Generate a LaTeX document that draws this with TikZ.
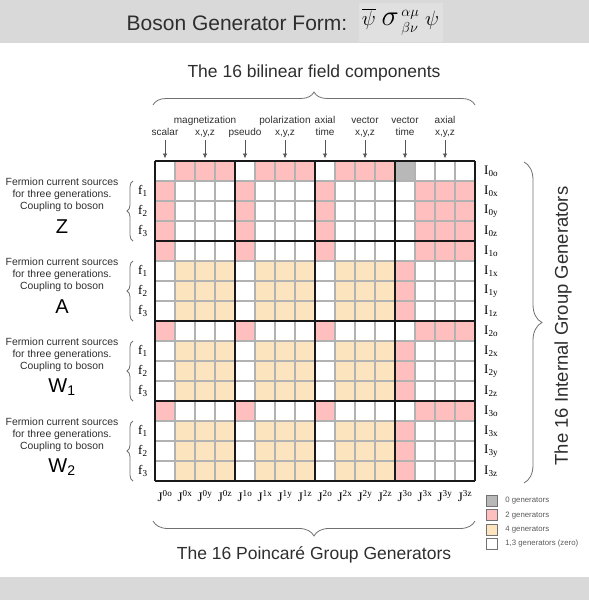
\documentclass[tikz,border=0pt]{standalone}
\usepackage{fontspec}
\setmainfont{Liberation Sans}
\newfontfamily\timesface{Liberation Serif}
\usetikzlibrary{arrows.meta, positioning, decorations.pathreplacing}
\definecolor{bandgray}{HTML}{D9D9D9}
\definecolor{inkgray}{HTML}{2E2E2E}
\definecolor{arrowgray}{HTML}{555555}
\definecolor{bracegray}{HTML}{707070}
\definecolor{rulegray}{HTML}{B2B2B2}
\definecolor{cellw}{HTML}{FFFFFF}
\definecolor{cellp}{HTML}{FFBFBF}
\definecolor{cello}{HTML}{FCE4BE}
\definecolor{cellg}{HTML}{B8B8B8}
\tikzset{heading/.style={font=\fontsize{17.5}{20}\selectfont,text=inkgray,inner sep=0pt},colhead/.style={align=center,anchor=base,font=\fontsize{10}{12}\selectfont,text=inkgray,inner sep=1.5pt,text depth=0.25em},colarrow/.style={draw=arrowgray,line width=0.8pt,-{Latex[length=5pt,width=4.5pt]}},thinrule/.style={draw=rulegray,line width=1.1pt},blockrule/.style={draw=black!90,line width=1.5pt},rowlabel/.style={anchor=west,font=\timesface\fontsize{13}{14}\selectfont,inner sep=0pt},collabel/.style={font=\timesface\fontsize{13}{14}\selectfont,inner sep=0pt},genlabel/.style={anchor=west,font=\timesface\fontsize{13}{14}\selectfont,inner sep=0pt},sources/.style={align=center,font=\fontsize{10.4}{11.7}\selectfont,text=inkgray,inner sep=0pt},boson/.style={font=\fontsize{20}{22}\selectfont,inner sep=0pt},bracepen/.style={draw=bracegray,line width=0.8pt,decorate},keybox/.style={draw=black!55,minimum size=11pt,inner sep=0pt},keytext/.style={font=\fontsize{7.8}{9}\selectfont,text=black!65,inner sep=0pt}}

\begin{document}
\begin{tikzpicture}[x=1pt,y=-1pt]
\useasboundingbox (0,0) rectangle (589,600);
\fill[bandgray] (0,0) rectangle (589,43);
\fill[bandgray] (0,577) rectangle (589,600);
\node[font=\fontsize{21}{24}\selectfont,text=inkgray,inner sep=0pt] (title) at (237,23) {Boson Generator Form:};
\node[draw=black!15,fill=black!12,minimum width=85pt,minimum height=40pt,font=\fontsize{21}{24}\selectfont] (formula) at (400.5,22) {$\overline{\psi}\;{\scalebox{1.4}{$\sigma$}}^{\,\raisebox{1.5pt}{$\scriptstyle\alpha\mu$}}_{\,\raisebox{-2pt}{$\scriptstyle\beta\nu$}}\;\psi$};
\node[heading] (bilinear) at (314,73) {The 16 bilinear field components};
\draw[bracepen,decoration={brace,amplitude=13pt}] (153,105) -- (475,105);
\coordinate (gridtop) at (155,158.5);
% column kinds
\node[colhead] (scalar) at (165,135.5) {scalar};
\node[colhead] (magnet) at (205,135.5) {magnetization\\x,y,z};
\node[colhead] (pseudo) at (245,135.5) {pseudo};
\node[colhead] (polar) at (285,135.5) {polarization\\x,y,z};
\node[colhead] (axtime) at (325,135.5) {axial\\time};
\node[colhead] (vecxyz) at (365,135.5) {vector\\x,y,z};
\node[colhead] (vectime) at (405,135.5) {vector\\time};
\node[colhead] (axxyz) at (445,135.5) {axial\\x,y,z};
\foreach \n in {scalar,magnet,pseudo,polar,axtime,vecxyz,vectime,axxyz}
  \draw[colarrow] (\n.south) -- (\n.south |- gridtop);
% cells
\foreach \cells [count=\r from 0] in {
  {w,p,p,p,w,p,p,p,w,p,p,p,g,w,w,w},
  {p,w,w,w,p,w,w,w,p,w,w,w,w,p,p,p},
  {p,w,w,w,p,w,w,w,p,w,w,w,w,p,p,p},
  {p,w,w,w,p,w,w,w,p,w,w,w,w,p,p,p},
  {p,w,w,w,p,w,w,w,p,w,w,w,w,p,p,p},
  {w,o,o,o,w,o,o,o,w,o,o,o,p,w,w,w},
  {w,o,o,o,w,o,o,o,w,o,o,o,p,w,w,w},
  {w,o,o,o,w,o,o,o,w,o,o,o,p,w,w,w},
  {p,w,w,w,p,w,w,w,p,w,w,w,w,p,p,p},
  {w,o,o,o,w,o,o,o,w,o,o,o,p,w,w,w},
  {w,o,o,o,w,o,o,o,w,o,o,o,p,w,w,w},
  {w,o,o,o,w,o,o,o,w,o,o,o,p,w,w,w},
  {p,w,w,w,p,w,w,w,p,w,w,w,w,p,p,p},
  {w,o,o,o,w,o,o,o,w,o,o,o,p,w,w,w},
  {w,o,o,o,w,o,o,o,w,o,o,o,p,w,w,w},
  {w,o,o,o,w,o,o,o,w,o,o,o,p,w,w,w}}
  \foreach \c [count=\k from 0] in \cells
    \fill[fill=cell\c] ({155+20*\k},{161+20*\r}) rectangle ++(20,20);
\foreach \k in {1,...,15} {
  \draw[thinrule] ({155+20*\k},161) -- ++(0,320);
  \draw[thinrule] (155,{161+20*\k}) -- ++(320,0);
}
\foreach \k in {0,4,8,12,16} {
  \draw[blockrule] ({155+20*\k},161) -- ++(0,320);
  \draw[blockrule] (155,{161+20*\k}) -- ++(320,0);
}
% generator labels
\foreach \n [count=\k from 0] in {0o,0x,0y,0z,1o,1x,1y,1z,2o,2x,2y,2z,3o,3x,3y,3z} {
  \node[rowlabel] (I\n) at (484,{171+20*\k}) {I\textsubscript{\n}};
  \node[collabel] (J\n) at ({165+20*\k},496) {J\textsuperscript{\n}};
}
% fermion sources
\foreach \who [count=\b from 0] in {Z,A,W\textsubscript{1},W\textsubscript{2}} {
  \node[sources] (src\b) at (62,{195+80*\b}) {Fermion current sources\\for three generations.\\Coupling to boson};
  \node[boson] (boson\b) at (62,{227+80*\b}) {\who};
  \foreach \g in {1,2,3}
    \node[genlabel] (f\b\g) at (138,{171+80*\b+20*\g}) {f\textsubscript{\g}};
  \draw[bracepen,decoration={brace,amplitude=6pt}] (133,{241+80*\b}) -- (133,{181+80*\b});
}
\draw[bracepen,decoration={brace,amplitude=15pt}] (475,521) -- (153,521);
\node[heading] (poincare) at (314,555) {The 16 Poincar\'e Group Generators};
\draw[bracepen,decoration={brace,amplitude=18pt}] (524,162) -- (524,483);
\node[heading,rotate=90,font=\fontsize{18.5}{20}\selectfont] (internal) at (563,326) {The 16 Internal Group Generators};
% legend
\node[keybox,fill=cellg] (key0) at (491.5,501) {};
\node[keybox,fill=cellp,below=2.7pt of key0] (key2) {};
\node[keybox,fill=cello,below=2.7pt of key2] (key4) {};
\node[keybox,fill=cellw,below=2.7pt of key4] (key13) {};
\node[keytext,right=8pt of key0] (zero) {0 generators};
\node[keytext,right=8pt of key2] (two) {2 generators};
\node[keytext,right=8pt of key4] (four) {4 generators};
\node[keytext,right=8pt of key13] (odd) {1,3 generators (zero)};
\end{tikzpicture}
\end{document}
